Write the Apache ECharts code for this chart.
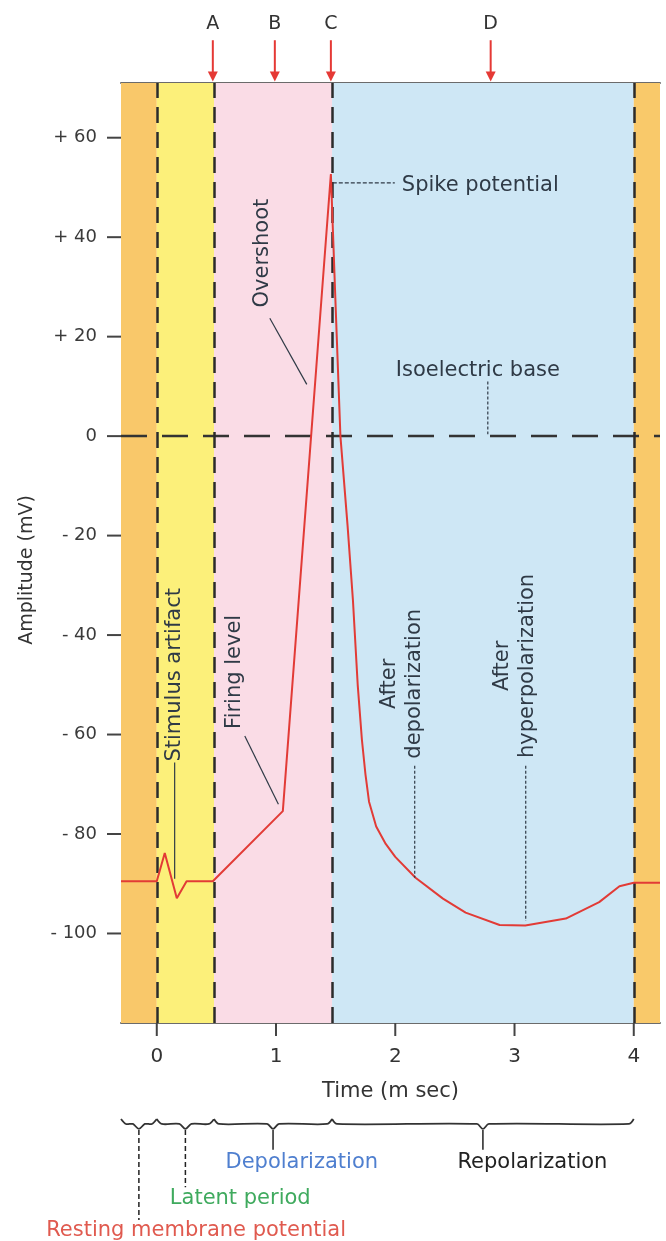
<!DOCTYPE html>
<html>
<head>
<meta charset="utf-8">
<script src="https://cdn.jsdelivr.net/npm/echarts@6/dist/echarts.min.js"></script>
<style>
html,body{margin:0;padding:0;background:#fff;}
#chart{width:666px;height:1241px;}
</style>
</head>
<body>
<div id="chart"></div>
<script>
// ---- data ----
const timeMs    = [-0.3, 0, 0.067, 0.168, 0.25, 0.47, 1.057, 1.46, 1.50, 1.54, 1.60, 1.645, 1.685, 1.72, 1.75, 1.78, 1.84, 1.92, 2.0, 2.17, 2.4, 2.59, 2.875, 3.09, 3.43, 3.71, 3.88, 4.0, 4.22];
const amplitude = [-89.5, -89.5, -83.8, -92.9, -89.5, -89.5, -75.4, 52.7, 26, 0, -18, -33, -50, -61, -68, -73.5, -78.5, -82, -84.6, -88.8, -93, -95.8, -98.3, -98.4, -97, -93.7, -90.5, -89.8, -89.8];
const yTicks = [-100, -80, -60, -40, -20, 0, 20, 40, 60];
const xTicks = [0, 1, 2, 3, 4];
const phaseEdges = [-0.3, 0, 0.48, 1.47, 4, 4.22];
const phaseDividers = [0, 0.48, 1.47, 4];
const arrowLabels = ['A', 'B', 'C', 'D'];
const arrowTimes = [0.47, 0.99, 1.46, 2.8];
const braceNames = ['Resting membrane potential', 'Latent period', 'Depolarization', 'Repolarization'];

// ---- styling ----
const FONT = 'DejaVu Sans';
const bandColors = ['#F9C86A', '#FCF07A', '#FADCE6', '#CEE7F5', '#F9C96A'];
const braceColors = ['#E05A4F', '#3FAA5E', '#4F7FCF', '#222222'];
const X_MIN = -0.3, X_MAX = 4.22, Y_MIN = -118, Y_MAX = 71;

const curve = timeMs.map((t, i) => [t, amplitude[i]]);
const bands = [];
for (let i = 0; i < phaseEdges.length - 1; i++) {
  bands.push([{xAxis: phaseEdges[i], itemStyle: {color: bandColors[i]}}, {xAxis: phaseEdges[i + 1]}]);
}

const chart = echarts.init(document.getElementById('chart'), null, {renderer: 'canvas'});
const option = {
  animation: false,
  backgroundColor: '#ffffff',
  grid: {left: 121, right: 6, top: 83, bottom: 218},
  xAxis: [{
    type: 'value', min: X_MIN, max: X_MAX, position: 'bottom',
    name: 'Time (m sec)', nameLocation: 'middle', nameGap: 58,
    nameTextStyle: {fontFamily: FONT, fontSize: 21, color: '#333'},
    axisLine: {show: true, onZero: false, lineStyle: {color: '#6b6b6b', width: 2}},
    axisTick: {show: false},
    axisLabel: {show: true, customValues: xTicks, margin: 24, fontFamily: FONT, fontSize: 20, color: '#333'},
    splitLine: {show: false}
  }, {
    type: 'value', min: X_MIN, max: X_MAX, position: 'top',
    axisLine: {show: true, onZero: false, lineStyle: {color: '#6b6b6b', width: 2}},
    axisTick: {show: false}, axisLabel: {show: false}, splitLine: {show: false}
  }],
  yAxis: {
    type: 'value', min: Y_MIN, max: Y_MAX,
    axisLine: {show: false},
    axisTick: {show: false},
    axisLabel: {show: true, customValues: yTicks, margin: 24, fontFamily: FONT, fontSize: 18, color: '#3a3a3a',
      formatter: v => v > 0 ? '+ ' + v : (v < 0 ? '- ' + (-v) : '0')},
    splitLine: {show: false}
  },
  series: [{
    type: 'line', data: [], silent: true,
    markArea: {silent: true, data: bands},
    markLine: {
      silent: true, symbol: 'none', label: {show: false},
      lineStyle: {color: '#2b2b2b', width: 2.5, type: [16, 9]},
      data: phaseDividers.map(x => ({xAxis: x}))
    }
  }, {
    type: 'line', silent: true, symbol: 'none',
    data: [[X_MIN, 0], [X_MAX, 0]],
    lineStyle: {color: '#333', width: 2.5, type: [26, 15]}, z: 3
  }, {
    type: 'line', silent: true, symbol: 'none', data: curve,
    lineStyle: {color: '#E23B36', width: 2}, z: 5
  }]
};
chart.setOption(option);

// ---- annotations (positions in data units: ms, mV) ----
const P = (x, y) => chart.convertToPixel({xAxisIndex: 0, yAxisIndex: 0}, [x, y]);
const g = [];
const txtColor = '#2f3a46';
function text(x, y, s, opts) {
  opts = opts || {};
  const p = P(x, y);
  g.push({type: 'text', x: p[0], y: p[1], rotation: opts.rot || 0, z: 20,
    style: {text: s, fill: opts.color || txtColor, font: (opts.size || 21) + 'px "' + FONT + '"',
      align: opts.align || 'center', verticalAlign: 'middle', lineHeight: opts.lh || 24}});
}
function line(pts, opts) {
  opts = opts || {};
  g.push({type: 'polyline', z: 19, shape: {points: pts.map(q => P(q[0], q[1]))},
    style: {stroke: opts.color || txtColor, lineWidth: opts.w || 1.2, lineDash: opts.dash || null, fill: null}});
}

// axis ticks (drawn from the tick arrays)
yTicks.forEach(v => {
  const p = P(X_MIN, v);
  g.push({type: 'line', z: 20, shape: {x1: p[0] - 14, y1: p[1], x2: p[0], y2: p[1]}, style: {stroke: '#444', lineWidth: 2}});
});
xTicks.forEach(v => {
  const p = P(v, Y_MIN);
  g.push({type: 'line', z: 20, shape: {x1: p[0], y1: p[1], x2: p[0], y2: p[1] + 13}, style: {stroke: '#444', lineWidth: 2}});
});

// Spike potential
text(2.055, 50.3, 'Spike potential', {align: 'left'});
line([[1.476, 50.9], [1.996, 50.9]], {dash: [4, 2]});
// Overshoot
text(0.889, 36.8, 'Overshoot', {rot: Math.PI / 2});
line([[0.948, 23.7], [1.258, 10.4]]);
// Isoelectric base
text(2.004, 13.1, 'Isoelectric base', {align: 'left'});
line([[2.776, 11], [2.776, 0.4]], {dash: [3, 2]});
// Stimulus artifact
text(0.15, -48, 'Stimulus artifact', {rot: Math.PI / 2});
line([[0.15, -65.6], [0.15, -89]]);
// Firing level
text(0.654, -47.4, 'Firing level', {rot: Math.PI / 2});
line([[0.738, -60.3], [1.02, -74]]);
// After depolarization
text(2.06, -49.8, 'After\ndepolarization', {rot: Math.PI / 2, lh: 25});
line([[2.163, -66.3], [2.163, -88.8]], {dash: [3, 2]});
// After hyperpolarization
text(3.006, -46.2, 'After\nhyperpolarization', {rot: Math.PI / 2, lh: 25});
line([[3.094, -66.3], [3.094, -97.5]], {dash: [3, 2]});

// Arrows A-D
arrowTimes.forEach((t, i) => {
  text(t, 82.8, arrowLabels[i], {size: 19, color: '#333'});
  const a = P(t, 79.6), b = P(t, 71.3);
  g.push({type: 'line', z: 20, shape: {x1: a[0], y1: a[1], x2: b[0], y2: b[1] - 6}, style: {stroke: '#E53935', lineWidth: 2}});
  g.push({type: 'polygon', z: 20, shape: {points: [[b[0] - 5, b[1] - 10], [b[0] + 5, b[1] - 10], [b[0], b[1]]]}, style: {fill: '#E53935'}});
});

// Braces below the time axis
const braceY = -138.3;
for (let i = 0; i < 4; i++) {
  const a = P(phaseEdges[i], braceY), b = P(phaseEdges[i + 1], braceY);
  const m = (a[0] + b[0]) / 2, y = a[1];
  g.push({type: 'polyline', z: 19, shape: {points: [[a[0], y - 5], [a[0] + 5, y], [m - 6, y], [m, y + 5], [m + 6, y], [b[0] - 5, y], [b[0], y - 5]], smooth: 0.3},
    style: {stroke: '#333', lineWidth: 1.8, fill: null}});
}
const mids = [];
for (let i = 0; i < 4; i++) mids.push((phaseEdges[i] + phaseEdges[i + 1]) / 2);
line([[mids[0], -139.5], [mids[0], -157.6]], {dash: [5, 3], color: '#222', w: 1.5});
line([[mids[1], -139.5], [mids[1], -151]], {dash: [5, 3], color: '#222', w: 1.5});
line([[mids[2], -139.5], [mids[2], -143.5]], {color: '#222', w: 1.5});
line([[mids[3], -139.5], [mids[3], -143.5]], {color: '#222', w: 1.5});
text(0.33, -159.8, braceNames[0], {color: braceColors[0]});
text(0.70, -153.2, braceNames[1], {color: braceColors[1]});
text(1.216, -146.1, braceNames[2], {color: braceColors[2]});
text(3.15, -146.1, braceNames[3], {color: braceColors[3]});

// Y axis name
g.push({type: 'text', x: 27, y: 570, rotation: Math.PI / 2, z: 20,
  style: {text: 'Amplitude (mV)', fill: '#333', font: '19px "' + FONT + '"', align: 'center', verticalAlign: 'middle'}});

chart.setOption({graphic: g});
</script>
</body>
</html>
